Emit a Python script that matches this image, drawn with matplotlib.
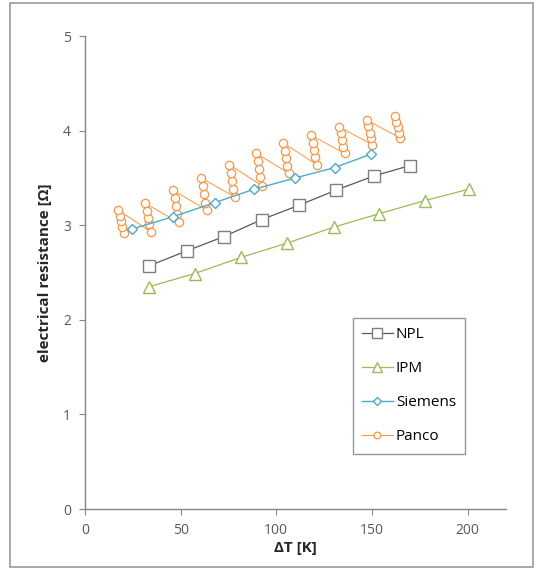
import numpy as np
import matplotlib
matplotlib.use('Agg')
import matplotlib.pyplot as plt
from matplotlib.patches import Rectangle

plt.rcParams['font.family'] = ['Open Sans', 'DejaVu Sans']

# data
npl_x = [33.4, 53.3, 72.6, 92.4, 111.7, 131.1, 150.9, 169.7]
npl_y = [2.57, 2.73, 2.88, 3.06, 3.21, 3.37, 3.52, 3.63]

ipm_x = [33.4, 57.4, 81.5, 105.5, 130.0, 153.5, 177.5, 200.5]
ipm_y = [2.35, 2.49, 2.66, 2.81, 2.98, 3.12, 3.26, 3.38]

siemens_x = [24.5, 46.0, 67.9, 88.3, 110.0, 130.5, 149.3]
siemens_y = [2.96, 3.09, 3.24, 3.38, 3.50, 3.61, 3.75]

# Panco: each step a small column of readings, bottom to top
panco_x = [20.3, 19.6, 18.9, 18.2, 17.5,
           34.4, 33.7, 33.0, 32.3, 31.6,
           49.0, 48.3, 47.6, 46.9, 46.2,
           63.6, 62.9, 62.2, 61.5, 60.8,
           78.3, 77.6, 76.9, 76.2, 75.5,
           92.4, 91.7, 91.0, 90.3, 89.6,
           106.5, 105.8, 105.1, 104.4, 103.7,
           121.1, 120.4, 119.7, 119.0, 118.3,
           135.7, 135.0, 134.3, 133.6, 132.9,
           150.3, 149.6, 148.9, 148.2, 147.5,
           164.9, 164.2, 163.5, 162.8, 162.1]
panco_y = [2.92, 2.98, 3.04, 3.10, 3.16,
           2.93, 3.01, 3.08, 3.15, 3.23,
           3.03, 3.12, 3.20, 3.29, 3.37,
           3.16, 3.24, 3.33, 3.41, 3.50,
           3.30, 3.38, 3.47, 3.55, 3.64,
           3.42, 3.51, 3.59, 3.68, 3.76,
           3.55, 3.63, 3.71, 3.79, 3.87,
           3.64, 3.72, 3.80, 3.87, 3.95,
           3.76, 3.83, 3.90, 3.97, 4.04,
           3.85, 3.92, 3.98, 4.05, 4.11,
           3.92, 3.98, 4.04, 4.09, 4.15]

fig = plt.figure(figsize=(5.43, 5.72), dpi=100)
ax = fig.add_axes([0.1565, 0.110, 0.775, 0.827])

ax.plot(npl_x, npl_y, color='#595959', lw=0.9, marker='s', ms=9,
        mfc='white', mec='#7f7f7f', mew=1.0, label='NPL')
ax.plot(ipm_x, ipm_y, color='#9bbb59', lw=0.9, marker='^', ms=9,
        mfc='white', mec='#9bbb59', mew=1.0, label='IPM')
ax.plot(panco_x, panco_y, color='#f79646', lw=0.7, marker='o', ms=6,
        mfc='white', mec='#f79646', mew=0.9, label='Panco', zorder=2)
ax.plot(siemens_x, siemens_y, color='#4bacc6', lw=1.0, marker='D', ms=5,
        mfc='white', mec='#4bacc6', mew=1.0, label='Siemens', zorder=3)

ax.set_xlim(0, 220)
ax.set_ylim(0, 5)
ax.set_xticks([0, 50, 100, 150, 200])
ax.set_yticks([0, 1, 2, 3, 4, 5])
for s in ['top', 'right']:
    ax.spines[s].set_visible(False)
for s in ['left', 'bottom']:
    ax.spines[s].set_color('#868686')
    ax.spines[s].set_linewidth(1.0)
ax.tick_params(colors='#868686', labelcolor='#595959', labelsize=10,
               direction='out', length=4, width=0.8, pad=6)

ax.set_xlabel('ΔT [K]', fontsize=11, fontweight='bold', color='#262626', labelpad=2)
ax.set_ylabel('electrical resistance [Ω]', fontsize=11, fontweight='bold',
              color='#262626', labelpad=8)

h, l = ax.get_legend_handles_labels()
order = [0, 1, 3, 2]
leg = ax.legend([h[i] for i in order], [l[i] for i in order],
                loc='upper left', bbox_to_anchor=(0.637, 0.404),
                fancybox=False, frameon=True, fontsize=11,
                handlelength=2.0, borderpad=0.6, labelspacing=1.25,
                handletextpad=0.2, markerscale=0.8, borderaxespad=0)
leg.get_frame().set_edgecolor('#7f7f7f')
leg.get_frame().set_linewidth(1.0)

# outer chart border
fig.patches.append(Rectangle((0.018, 0.008), 0.964, 0.986, transform=fig.transFigure,
                             fill=False, edgecolor='#9a9a9a', lw=1.2))

fig.savefig('out.png', dpi=100)
